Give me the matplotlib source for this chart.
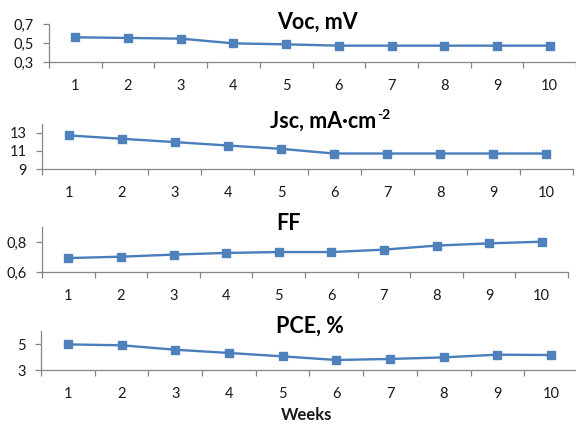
import matplotlib
matplotlib.use("Agg")
import matplotlib.pyplot as plt
import numpy as np

plt.rcParams['font.family'] = ['Lato', 'DejaVu Sans']

weeks = [1, 2, 3, 4, 5, 6, 7, 8, 9, 10]
voc = [0.56, 0.553, 0.546, 0.496, 0.486, 0.472, 0.472, 0.472, 0.472, 0.472]
jsc = [12.73, 12.36, 11.99, 11.61, 11.24, 10.72, 10.72, 10.72, 10.72, 10.72]
ff = [0.693, 0.702, 0.716, 0.727, 0.733, 0.733, 0.749, 0.776, 0.791, 0.802]
pce = [4.97, 4.90, 4.56, 4.31, 4.05, 3.77, 3.85, 3.97, 4.18, 4.15]

titles = ["Voc, mV", "Jsc, mA\u00b7cm", "FF", "PCE, %"]
ylims = [(0.3, 0.7), (9, 14), (0.6, 0.9), (3, 6)]
yticks = [[0.3, 0.5, 0.7], [9, 11, 13], [0.6, 0.8], [3, 5]]
yticklabels = [["0,3", "0,5", "0,7"], ["9", "11", "13"], ["0,6", "0,8"], ["3", "5"]]
series = [voc, jsc, ff, pce]

W, H = 576, 424
fig = plt.figure(figsize=(W / 100, H / 100), dpi=100)

# axes boxes in pixels: left, right, top, bottom
boxes = [(49, 576, 24, 62), (42, 573, 124, 169), (42, 568, 227, 272), (41, 578, 331, 370)]
title_pos = [(277, 22), (270, 121), (276, 224), (276, 326)]

line_col = '#4A7EBB'
mark_col = '#4F81BD'
axis_col = '#868686'
txt_col = '#1a1a1a'

for i in range(4):
    l, r, t, b = boxes[i]
    ax = fig.add_axes([l / W, 1 - b / H, (r - l) / W, (b - t) / H])
    ax.plot(weeks, series[i], color=line_col, lw=1.7, marker='s', ms=6.3,
            mfc=mark_col, mec=mark_col, zorder=3, clip_on=False)
    ax.set_xlim(0.5, 10.5)
    ax.set_ylim(*ylims[i])
    ax.set_yticks(yticks[i])
    ax.set_yticklabels(yticklabels[i])
    ax.set_xticks(np.arange(0.5, 11, 1.0))
    ax.set_xticklabels([])
    ax.set_xticks(weeks, minor=True)
    ax.set_xticklabels([str(w) for w in weeks], minor=True)
    ax.tick_params(axis='x', which='major', direction='out', length=4.5, width=0.9,
                   color=axis_col)
    ax.tick_params(axis='x', which='minor', length=0, pad=12, labelsize=10.5,
                   labelcolor=txt_col)
    ax.tick_params(axis='y', direction='out', length=4, width=0.9, color=axis_col,
                   labelsize=10.5, labelcolor=txt_col, pad=7)
    for s in ['top', 'right']:
        ax.spines[s].set_visible(False)
    for s in ['left', 'bottom']:
        ax.spines[s].set_color(axis_col)
        ax.spines[s].set_linewidth(0.9)
    ax.patch.set_alpha(0)
    tx, ty = title_pos[i]
    txt = fig.text(tx / W, 1 - ty / H, titles[i], fontsize=15.5, fontweight='bold',
                   ha='left', va='center', color='black')
    if i == 1:
        fig.canvas.draw()
        bb = txt.get_window_extent(renderer=fig.canvas.get_renderer())
        fig.text((bb.x1 + 1) / W, 1 - (ty - 6) / H, "-2", fontsize=10,
                 fontweight='bold', ha='left', va='center', color='black')

fig.text(307 / W, 1 - 415 / H, "Weeks", fontsize=12, fontweight='bold',
         ha='center', va='center', color=txt_col)

fig.savefig("out.png", dpi=100)
